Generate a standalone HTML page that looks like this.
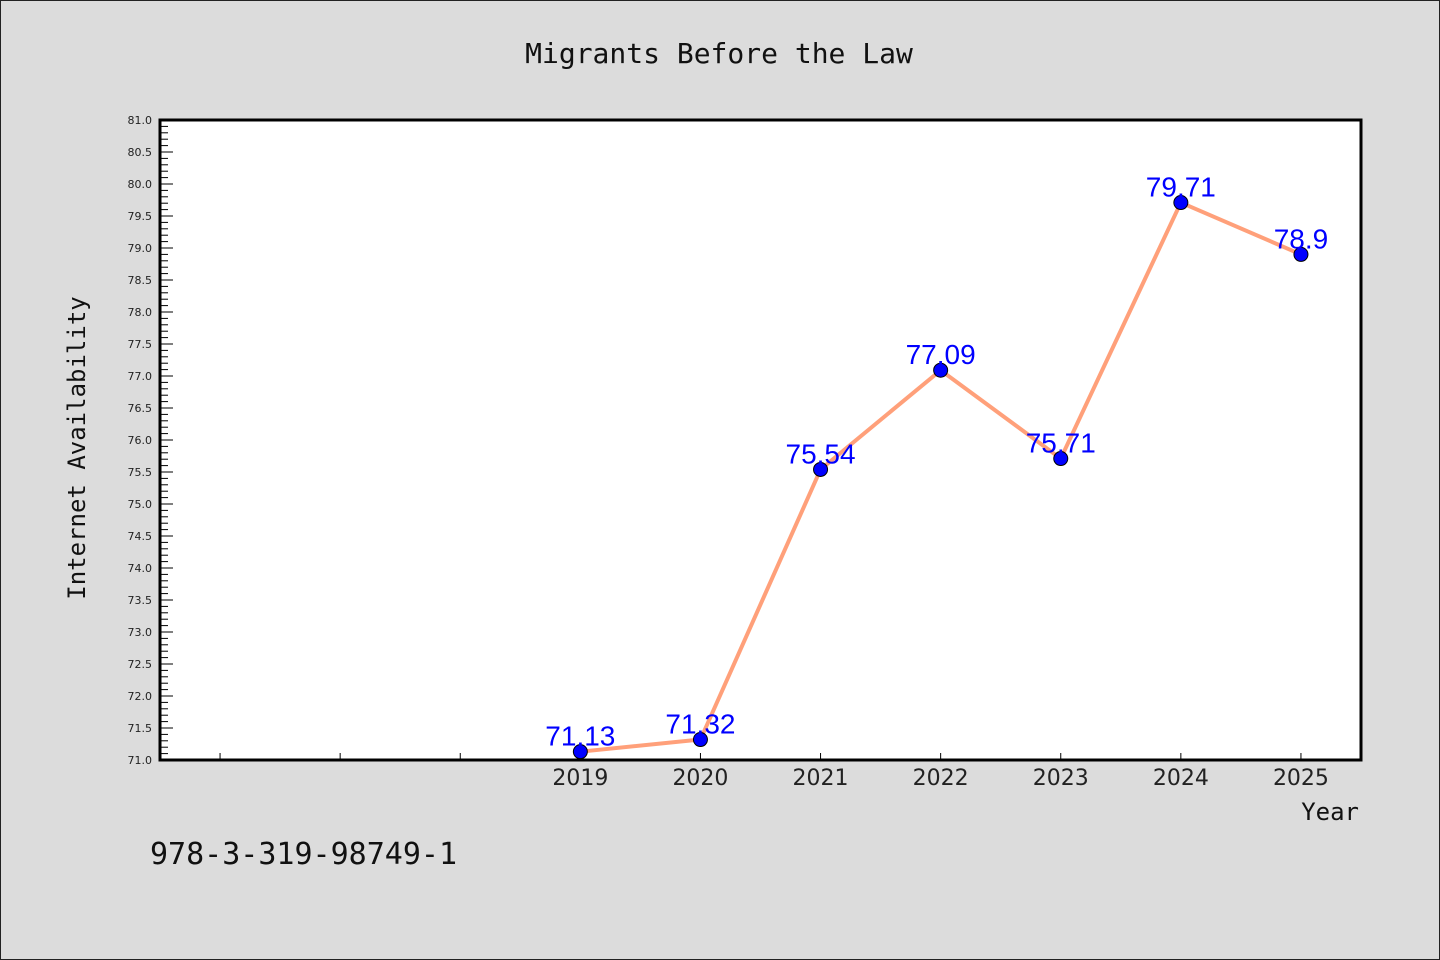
<!DOCTYPE html>
<html><head><meta charset="utf-8"><style>
html,body{margin:0;padding:0;background:#dcdcdc;}
svg{display:block;}
</style></head><body>
<svg width="1440" height="960" xmlns="http://www.w3.org/2000/svg" id="chart">
<rect x="0.5" y="0.5" width="1439" height="959" fill="#dcdcdc" stroke="#222"/>
<text x="719" y="63" text-anchor="middle" font-family="DejaVu Sans Mono, monospace" font-size="28" fill="#111">Migrants Before the Law</text>
<rect x="160" y="120" width="1201" height="640" fill="#fff"/>
<g id="yticks"></g><g id="xticks"></g>
<rect x="160" y="120" width="1201" height="640" fill="none" stroke="#000" stroke-width="3"/>
<g id="series"></g>
<text transform="translate(85,448) rotate(-90)" text-anchor="middle" font-family="DejaVu Sans Mono, monospace" font-size="24" fill="#111">Internet Availability</text>
<text x="1359" y="820" text-anchor="end" font-family="DejaVu Sans Mono, monospace" font-size="24" fill="#111">Year</text>
<text x="150" y="864" font-family="DejaVu Sans Mono, monospace" font-size="30" fill="#111">978-3-319-98749-1</text>
</svg>
<script>
const years = [2019, 2020, 2021, 2022, 2023, 2024, 2025];
const values = [71.13, 71.32, 75.54, 77.09, 75.71, 79.71, 78.9];
const valueLabels = ["71.13", "71.32", "75.54", "77.09", "75.71", "79.71", "78.9"];
const yTickLabels = ["71.0","71.5","72.0","72.5","73.0","73.5","74.0","74.5","75.0","75.5","76.0","76.5","77.0","77.5","78.0","78.5","79.0","79.5","80.0","80.5","81.0"];
const xTickYears = [2016, 2017, 2018, 2019, 2020, 2021, 2022, 2023, 2024, 2025];

const NS = "http://www.w3.org/2000/svg";
const X0 = 160, X1 = 1361, Y0 = 760, Y1 = 120;
const xMin = 2015.5, xMax = 2025.5, yMin = 71, yMax = 81;
const xs = v => X0 + (v - xMin) / (xMax - xMin) * (X1 - X0);
const ys = v => Y0 - (v - yMin) / (yMax - yMin) * (Y0 - Y1);
function mk(tag, attrs, parent) {
  const e = document.createElementNS(NS, tag);
  for (const k in attrs) e.setAttribute(k, attrs[k]);
  parent.appendChild(e);
  return e;
}
const yt = document.getElementById('yticks');
for (let i = 0; i <= 100; i++) {
  const v = yMin + i * 0.1;
  const y = ys(v);
  const major = i % 5 === 0;
  const t = mk('line', {x1: X0, x2: X0 + (major ? 13 : 8), y1: y, y2: y, stroke: '#000', 'stroke-width': 1}, yt);
  
  
}
yTickLabels.forEach(l => {
  const t = mk('text', {x: 152, y: ys(parseFloat(l)) + 4, 'text-anchor': 'end', 'font-family': 'DejaVu Sans, sans-serif', 'font-size': 11, fill: '#222'}, yt);
  t.textContent = l;
  
  
});
const xt = document.getElementById('xticks');
xTickYears.forEach(yr => {
  const x = xs(yr);
  const t = mk('line', {x1: x, x2: x, y1: Y0, y2: Y0 - 7, stroke: '#000', 'stroke-width': 1}, xt);
  
  
});
years.forEach(yr => {
  const t = mk('text', {x: xs(yr), y: 785, 'text-anchor': 'middle', 'font-family': 'DejaVu Sans, sans-serif', 'font-size': 22, fill: '#222'}, xt);
  t.textContent = String(yr);
  
  
});
const s = document.getElementById('series');
const pl = mk('polyline', {points: years.map((y, i) => xs(y) + ',' + ys(values[i])).join(' '), fill: 'none', stroke: '#ffa07a', 'stroke-width': 4}, s);


years.forEach((yr, i) => {
  const c = mk('circle', {cx: xs(yr), cy: ys(values[i]), r: 7, fill: '#0000ff', stroke: '#000', 'stroke-width': 1}, s);
  
  
});
years.forEach((yr, i) => {
  const t = mk('text', {x: xs(yr), y: ys(values[i]) - 6, 'text-anchor': 'middle', 'font-family': 'Liberation Sans, sans-serif', 'font-size': 28, fill: '#0000ff'}, s);
  t.textContent = valueLabels[i];
  
  
});
</script>
</body></html>
